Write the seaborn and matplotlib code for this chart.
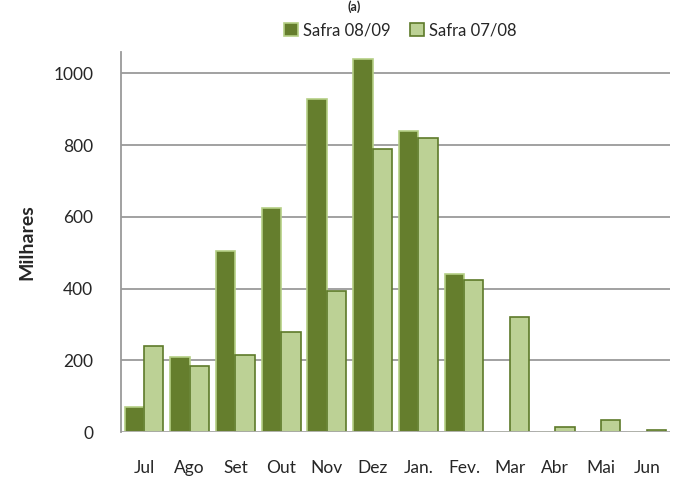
import pandas as pd
import numpy as np
import matplotlib.pyplot as plt
import seaborn as sns

#Monthly values (thousands)
meses = ["Jul", "Ago", "Set", "Out", "Nov", "Dez", "Jan.", "Fev.", "Mar", "Abr", "Mai", "Jun"]
safra_0809 = [70, 210, 505, 625, 930, 1040, 840, 440, 0, 0, 0, 0]
safra_0708 = [240, 185, 215, 280, 395, 790, 820, 425, 320, 15, 35, 5]

df = pd.DataFrame({
    "Mes": meses * 2,
    "Valor": safra_0809 + safra_0708,
    "Safra": ["Safra 08/09"] * len(meses) + ["Safra 07/08"] * len(meses),
})

sns.set_theme(style="white")
plt.rcParams["font.family"] = ["Lato", "DejaVu Sans"]

fig, ax = plt.subplots(figsize=(6.73, 4.94), dpi=100)
fig.subplots_adjust(left=0.18, right=0.995, top=0.895, bottom=0.125)

cores = {"Safra 08/09": "#657E2D", "Safra 07/08": "#BCD195"}
bordas = {"Safra 08/09": "#B5CF85", "Safra 07/08": "#5E7A2A"}

sns.barplot(data=df, x="Mes", y="Valor", hue="Safra", palette=cores,
            width=0.85, ax=ax, saturation=1, legend=False)

#Edge colours by series
n = len(meses)
for i, patch in enumerate(ax.patches[:2 * n]):
    serie = "Safra 08/09" if i < n else "Safra 07/08"
    patch.set_edgecolor(bordas[serie])
    patch.set_linewidth(1.2)

ax.set_ylim(0, 1060)
ax.set_yticks(range(0, 1001, 200))
ax.yaxis.grid(True, color="#9a9a9a", linewidth=1.3)
ax.set_axisbelow(True)
for s in ["top", "right", "bottom"]:
    ax.spines[s].set_visible(False)
ax.spines["left"].set_color("#9a9a9a")
ax.spines["left"].set_linewidth(1.3)
ax.axhline(0, color="#b0b0b0", linewidth=2)

ax.set_xlabel("")
ax.set_ylabel("Milhares", fontsize=14, fontweight="bold", labelpad=13)
ax.tick_params(axis="y", labelsize=12.5, pad=20, length=0)
ax.tick_params(axis="x", labelsize=12.5, pad=20, length=0)

#Legend
handles = [plt.Rectangle((0, 0), 1, 1, facecolor=cores[k], edgecolor=bordas[k], linewidth=1.2)
           for k in ["Safra 08/09", "Safra 07/08"]]
fig.legend(handles, ["Safra 08/09", "Safra 07/08"], loc="upper center",
           bbox_to_anchor=(0.595, 0.985), ncol=2, frameon=False, fontsize=12,
           handlelength=0.8, handleheight=0.8, handletextpad=0.3, columnspacing=1.2)

fig.text(0.527, 0.999, "(a)", ha="center", va="top", fontsize=9, fontweight="bold")

plt.savefig("out.png", dpi=100)
